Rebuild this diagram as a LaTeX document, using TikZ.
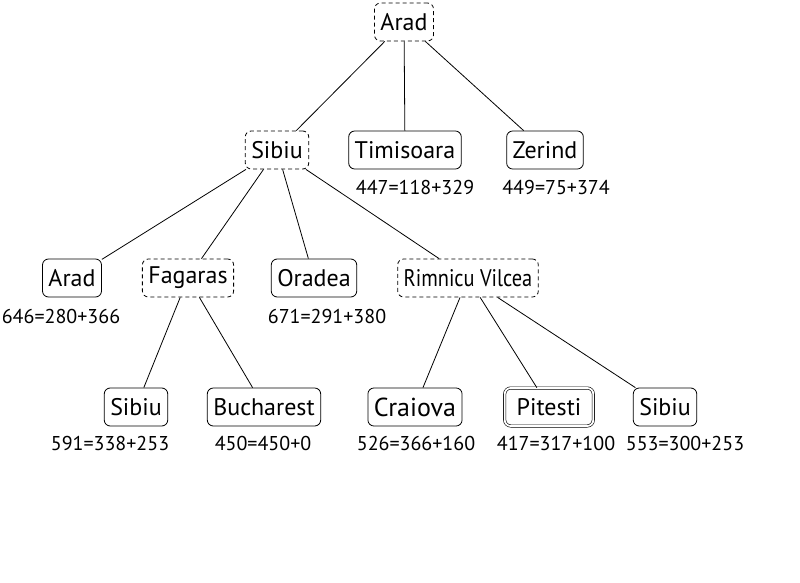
\documentclass[tikz,border=0pt]{standalone}
\usepackage{fontspec}
\usepackage{graphicx}
\setmainfont{PT Sans}
\begin{document}
\begin{tikzpicture}[x=1pt,y=-1pt,
  city/.style={draw,rounded corners=6pt,minimum height=38pt,inner xsep=6pt,font=\fontsize{24}{28}\selectfont,line width=0.8pt},
  open/.style={city,dashed,dash pattern=on 4pt off 3pt},
  goal/.style={city,double,double distance=1.8pt,line width=0.6pt,inner xsep=12pt},
  cost/.style={font=\fontsize{20}{24}\selectfont},
  edge/.style={line width=0.8pt}]
\useasboundingbox (0,0) rectangle (800,583);
\node[open] (arad) at (404,22) {Arad};
\node[open] (sib) at (277,150) {Sibiu};
\node[city] (tim) at (405,150) {Timisoara};
\node[city] (zer) at (545,150) {Zerind};
\node[cost] (ltim) at (415,187) {447=118+329};
\node[cost] (lzer) at (556,187) {449=75+374};
\node[city] (arad2) at (72,278) {Arad};
\node[open] (fag) at (188,278) {Fagaras};
\node[city] (ora) at (314,278) {Oradea};
\node[open] (rv) at (468,278) {\scalebox{0.85}[1]{Rimnicu Vilcea}};
\node[cost] (larad2) at (61,316) {646=280+366};
\node[cost] (lora) at (327,316) {671=291+380};
\node[city] (sib2) at (136,407) {Sibiu};
\node[city] (buc) at (264,407) {Bucharest};
\node[city,font=\fontsize{26}{30}\selectfont] (cra) at (415,407) {Craiova};
\node[goal] (pit) at (549,407) {Pitesti};
\node[city] (sib3) at (665,407) {Sibiu};
\node[cost] (lsib2) at (110,443) {591=338+253};
\node[cost] (lbuc) at (263,443) {450=450+0};
\node[cost] (lcra) at (416,443) {526=366+160};
\node[cost] (lpit) at (556,443) {417=317+100};
\node[cost] (lsib3) at (685,443) {553=300+253};
\draw[edge] (arad) -- (sib);
\draw[edge] (arad) -- (tim);
\draw[edge] (arad) -- (zer);
\draw[edge] (sib) -- (arad2);
\draw[edge] (sib) -- (fag);
\draw[edge] (sib) -- (ora);
\draw[edge] (sib) -- (rv);
\draw[edge] (fag) -- (sib2);
\draw[edge] (fag) -- (buc);
\draw[edge] (rv) -- (cra);
\draw[edge] (rv) -- (pit);
\draw[edge] (rv) -- (sib3);
\end{tikzpicture}
\end{document}
